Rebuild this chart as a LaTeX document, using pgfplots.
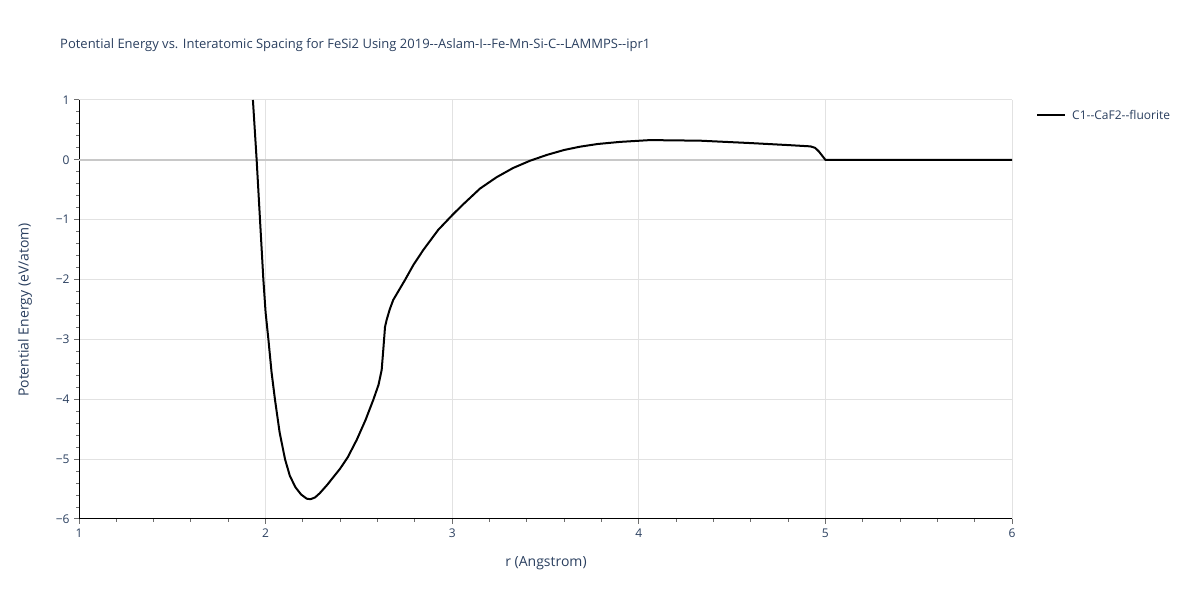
\documentclass[border=0pt]{standalone}
\usepackage{pgfplots}
\pgfplotsset{compat=1.18}
\usepackage{fontspec}
\setmainfont{Open Sans}[Ligatures=TeXOff]
\definecolor{txt}{RGB}{42,63,95}
\definecolor{gridc}{RGB}{226,226,226}
\definecolor{zeroc}{RGB}{200,200,200}
\definecolor{tickc}{RGB}{110,110,110}
\begin{document}
\begin{tikzpicture}[x=1bp,y=1bp]
\path[use as bounding box] (0,0) rectangle (1200,600);
\begin{axis}[
  at={(79bp,81bp)}, anchor=south west,
  scale only axis, width=933bp, height=419bp,
  xmin=1, xmax=6, ymin=-6, ymax=1,
  axis line style={black, line width=1bp},
  axis x line*=bottom, axis y line*=left,
  xtick={1,2,3,4,5,6},
  ytick={-6,-5,-4,-3,-2,-1,0,1},
  yticklabels={−6,−5,−4,−3,−2,−1,0,1},
  minor xtick={1.2,1.4,...,5.8},
  minor ytick={-5.8,-5.6,...,0.8},
  tick align=outside,
  major tick length=5bp, minor tick length=3bp,
  every tick/.style={tickc, line width=1bp},
  xmajorgrids, ymajorgrids,
  major grid style={gridc, line width=1bp},
  /pgf/number format/assume math mode=true,
  ticklabel style={font=\fontsize{12bp}{14bp}\selectfont, text=txt},
  xticklabel style={yshift=-1bp},
  yticklabel style={xshift=-1bp},
  clip=false,
]
\addplot[zeroc, line width=1.5bp, forget plot] coordinates {(1,0) (6,0)};
\addplot[black, line width=2bp, line join=round] coordinates {
(1.932,1.0) (1.952,0.0) (1.970,-1.0) (1.988,-2.0) (2.000,-2.55) (2.015,-3.0)
(2.032,-3.55) (2.050,-4.0) (2.075,-4.55)
(2.104,-5.0) (2.130,-5.28) (2.160,-5.47) (2.190,-5.59) (2.220,-5.66)
(2.240,-5.67) (2.265,-5.64) (2.290,-5.57)
(2.330,-5.43) (2.399,-5.16) (2.440,-4.97) (2.488,-4.68) (2.535,-4.35) (2.577,-4.01) (2.605,-3.76) (2.622,-3.51)
(2.630,-3.2) (2.640,-2.79) (2.649,-2.67) (2.665,-2.50) (2.684,-2.34) (2.747,-2.007)
(2.792,-1.756) (2.845,-1.506) (2.925,-1.17) (3.006,-0.905) (3.060,-0.74)
(3.149,-0.48) (3.238,-0.29) (3.327,-0.135) (3.417,-0.015) (3.506,0.081)
(3.600,0.165) (3.685,0.22) (3.780,0.265) (3.900,0.30) (4.060,0.33)
(4.330,0.32) (4.600,0.28) (4.810,0.245) (4.920,0.225) (4.945,0.20)
(4.965,0.14) (4.985,0.06) (5.000,0.0) (5.500,0.0) (6.000,0.0)
};
\end{axis}
\node[anchor=west, text=txt, font=\fontsize{13bp}{15bp}\selectfont, inner sep=0] at (60,555) {Potential Energy vs. Interatomic Spacing for FeSi2 Using 2019--Aslam-I--Fe-Mn-Si-C--LAMMPS--ipr1};
\node[text=txt, font=\fontsize{14bp}{16bp}\selectfont, inner sep=0] at (546,37) {r (Angstrom)};
\node[text=txt, font=\fontsize{14bp}{16bp}\selectfont, inner sep=0, rotate=90] at (25,290) {Potential Energy (eV/atom)};
\draw[black, line width=2bp] (1037,485) -- (1065,485);
\node[anchor=west, text=txt, font=\fontsize{12bp}{14bp}\selectfont, inner sep=0] at (1072,485) {C1--CaF2--fluorite};
\end{tikzpicture}
\end{document}
